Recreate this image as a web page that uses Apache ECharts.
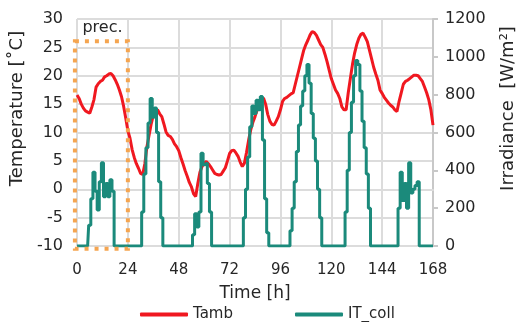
<!DOCTYPE html>
<html>
<head>
<meta charset="utf-8">
<script src="https://cdn.jsdelivr.net/npm/echarts@6/dist/echarts.min.js"></script>
<style>html,body{margin:0;padding:0;background:#fff;}#c{width:525px;height:322px;}</style>
</head>
<body>
<div id="c"></div>
<script>
// hourly time axis 0..168 h
const hours = Array.from({length: 169}, (_, i) => String(i));

// Ambient temperature [°C], one value per hour (h0..h168)
const tamb = [
  16.6, 16.0, 15.0, 14.3, 13.8, 13.6, 13.4, 14.5, 15.8, 18.0, 18.6, 19.0,   // 0-11
  19.2, 19.8, 20.0, 20.3, 20.4, 20.0, 19.3, 18.5, 17.5, 16.3, 14.6, 12.5,   // 12-23
  10.3, 9.0, 7.0, 5.6, 4.5, 3.7, 2.8, 2.6, 4.5, 7.5, 9.5, 11.5,             // 24-35
  13.0, 13.8, 14.0, 13.3, 12.8, 11.5, 10.1, 9.5, 9.3, 8.8, 8.0, 7.5,        // 36-47
  6.8, 5.6, 4.5, 3.3, 2.3, 1.2, 0.4, -0.8, -1.3, 1.0, 3.0, 4.0,             // 48-59
  4.6, 4.9, 4.5, 4.0, 3.4, 2.8, 2.6, 2.5, 2.6, 3.2, 3.8, 5.0,               // 60-71
  6.3, 6.8, 6.9, 6.4, 5.8, 4.8, 4.0, 4.6, 6.5, 8.7, 10.5, 11.8,             // 72-83
  12.8, 14.0, 15.0, 15.8, 16.1, 15.0, 13.2, 12.0, 11.4, 11.3, 12.0, 12.8,   // 84-95
  14.0, 15.5, 16.0, 16.2, 16.5, 16.8, 17.0, 18.5, 20.0, 21.5, 23.0, 24.5,   // 96-107
  25.5, 26.3, 27.2, 27.8, 27.6, 27.1, 26.3, 25.5, 25.0, 23.8, 22.5, 21.0,   // 108-119
  19.5, 18.5, 17.5, 16.9, 16.0, 14.5, 14.0, 14.0, 17.0, 19.5, 22.0, 24.0,   // 120-131
  25.5, 26.6, 27.3, 27.5, 26.8, 26.0, 24.5, 23.0, 21.5, 20.3, 19.2, 17.5,   // 132-143
  16.9, 16.2, 15.7, 15.2, 14.8, 14.5, 14.0, 13.7, 15.5, 17.0, 18.5, 19.0,   // 144-155
  19.2, 19.5, 19.8, 20.1, 20.1, 20.0, 19.5, 19.0, 18.0, 17.0, 15.8, 14.0,   // 156-167
  11.3                                                                      // 168
];

// Irradiance on collector [W/m2], one value per hour (h0..h168)
const itColl = [
  0, 0, 0, 0, 0, 0,                                                         // 0-5
  110, 250, 390, 290, 190, 340, 440, 260, 330, 260, 350, 290,               // 6-17
  0, 0, 0, 0, 0, 0, 0, 0, 0, 0, 0, 0, 0,                                    // 18-30
  180, 380, 520, 650, 780, 680, 730, 600, 340, 150,                         // 31-40
  0, 0, 0, 0, 0, 0, 0, 0, 0, 0, 0, 0, 0, 0,                                 // 41-54
  60, 170, 100, 180, 490, 430, 440, 330, 180,                               // 55-63
  0, 0, 0, 0, 0, 0, 0, 0, 0, 0, 0, 0, 0, 0, 0,                              // 64-78
  150, 300, 470, 630, 740, 700, 770, 720, 790, 560, 250, 70,                // 79-90
  0, 0, 0, 0, 0, 0, 0, 0, 0, 0,                                             // 91-100
  80, 200, 340, 500, 640, 740, 820, 900, 960, 860, 700, 570, 450, 300, 150, // 101-115
  0, 0, 0, 0, 0, 0, 0, 0, 0, 0, 0,                                          // 116-126
  180, 400, 600, 760, 900, 980, 960, 820, 660, 520, 380, 200,               // 127-138
  0, 0, 0, 0, 0, 0, 0, 0, 0, 0, 0, 0, 0,                                    // 139-151
  200, 390, 240, 330, 200, 440, 280, 300, 320, 340,                         // 152-161
  0, 0, 0, 0, 0, 0, 0                                                       // 162-168
];

// precondition period box (hour index, temperature)
const precStart = -1.1, precEnd = 24;
const precTop = 26.1, precBottom = -10.5;

const FONT = 'DejaVu Sans';
const TXT = '#262626';
const GRID = '#dcdcdc';
const ORANGE = '#f5a550';

const chart = echarts.init(document.getElementById('c'), null, {renderer: 'canvas'});
chart.setOption({
  animation: false,
  textStyle: {fontFamily: FONT},
  grid: {left: 77, right: 85, top: 19, bottom: 76, containLabel: false},
  legend: {
    data: ['Tamb', 'IT_coll'],
    left: 135, top: 302,
    icon: 'roundRect',
    itemWidth: 48, itemHeight: 4, itemGap: 62,
    textStyle: {fontFamily: FONT, fontSize: 15, color: TXT}
  },
  xAxis: {
    type: 'category', data: hours, boundaryGap: false,
    name: 'Time [h]', nameLocation: 'middle', nameGap: 39,
    nameTextStyle: {fontFamily: FONT, fontSize: 17, color: TXT},
    axisLine: {show: true, lineStyle: {color: GRID, width: 2}},
    axisTick: {show: false},
    axisLabel: {interval: 23, fontFamily: FONT, fontSize: 15, color: TXT, margin: 17},
    splitLine: {show: true, interval: 23, lineStyle: {color: GRID, width: 2}}
  },
  yAxis: [
    {
      type: 'value', min: -10, max: 30, interval: 5,
      name: 'Temperature [˚C]', nameLocation: 'middle', nameGap: 34,
      nameTextStyle: {fontFamily: FONT, fontSize: 18, color: TXT, padding: [0, 0, 0, 48]},
      axisLine: {show: false},
      axisTick: {show: false},
      axisLabel: {fontFamily: FONT, fontSize: 16, color: TXT, margin: 14},
      splitLine: {show: true, lineStyle: {color: GRID, width: 2}}
    },
    {
      type: 'value', min: 0, max: 1200, interval: 200, position: 'right',
      name: 'Irradiance  [W/m²]', nameLocation: 'middle', nameGap: 66,
      nameTextStyle: {fontFamily: FONT, fontSize: 18, color: TXT, padding: [0, 0, 0, 48]},
      axisLine: {show: true, lineStyle: {color: '#c8c8c8', width: 2}},
      axisTick: {show: true, length: 5, lineStyle: {color: '#c8c8c8', width: 2}},
      axisLabel: {fontFamily: FONT, fontSize: 16, color: TXT, margin: 12, formatter: v => String(v)},
      splitLine: {show: false}
    }
  ],
  series: [
    {
      name: 'Tamb', type: 'line', data: tamb, yAxisIndex: 0,
      showSymbol: false, symbol: 'none',
      lineStyle: {color: '#f01820', width: 3},
      itemStyle: {color: '#f01820'},
      markArea: {
        silent: true,
        itemStyle: {color: 'rgba(0,0,0,0)', borderWidth: 0},
        label: {
          show: true, position: 'top', distance: 5,
          formatter: 'prec.', fontFamily: FONT, fontSize: 16, color: TXT,
          backgroundColor: '#ffffff', padding: [0, 3, 0, 3]
        },
        data: [[{xAxis: 0, yAxis: precTop}, {xAxis: precEnd, yAxis: precBottom}]]
      }
    },
    {
      name: 'IT_coll', type: 'line', data: itColl, yAxisIndex: 1,
      showSymbol: false, symbol: 'none', step: 'middle',
      lineStyle: {color: '#1b8a7b', width: 3},
      itemStyle: {color: '#1b8a7b'}
    }
  ]
});

// dotted "prec." box placed through the chart's own scales
const p1 = chart.convertToPixel({xAxisIndex: 0, yAxisIndex: 0}, [precStart, precTop]);
const p2 = chart.convertToPixel({xAxisIndex: 0, yAxisIndex: 0}, [precEnd, precBottom]);
chart.setOption({
  graphic: [{
    type: 'rect', silent: true, z: 5,
    shape: {x: p1[0], y: p1[1], width: p2[0] - p1[0], height: p2[1] - p1[1]},
    style: {fill: 'none', stroke: ORANGE, lineWidth: 4, lineDash: [4, 6]}
  }]
});
</script>
</body>
</html>
